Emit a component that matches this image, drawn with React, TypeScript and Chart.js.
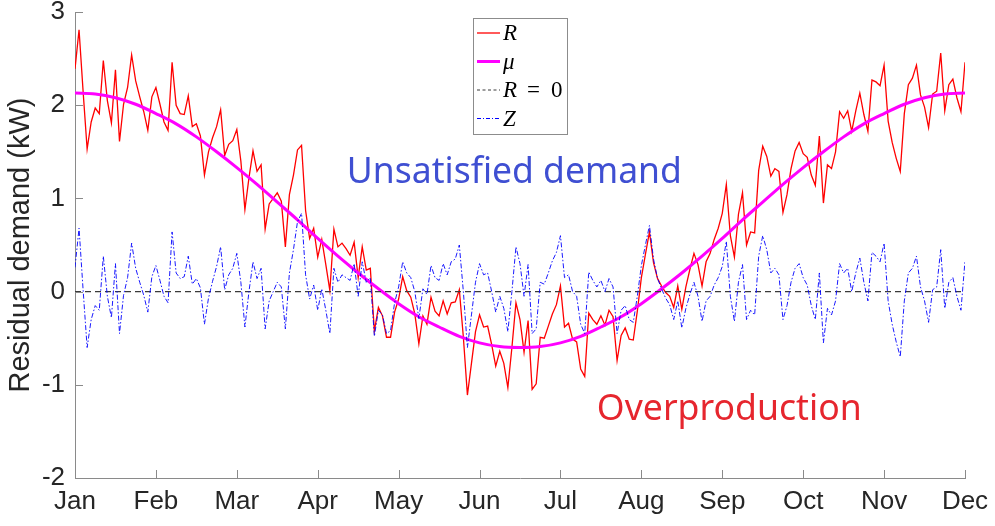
import React, { useEffect, useRef } from 'react';
import { Chart, registerables } from 'chart.js';

Chart.register(...registerables);

// ---- data ----
const monthLabels = ['Jan', 'Feb', 'Mar', 'Apr', 'May', 'Jun', 'Jul', 'Aug', 'Sep', 'Oct', 'Nov', 'Dec'];
const yTickValues = [-2, -1, 0, 1, 2, 3];

// R and Z are sampled every 0.05 month, starting at Jan
const sampleStep = 0.05;

const rValues = [
  2.39, 2.81, 2.15, 1.53, 1.82, 1.97, 1.91, 2.48, 2.05, 1.81,
  2.38, 1.61, 2.01, 2.19, 2.54, 2.26, 2.09, 1.93, 1.73, 2.09,
  2.19, 2.01, 1.82, 1.73, 2.46, 2.0, 1.91, 1.90, 2.10, 1.77,
  1.80, 1.67, 1.25, 1.50, 1.65, 1.77, 1.95, 1.46, 1.58, 1.62,
  1.74, 1.40, 0.88, 1.22, 1.51, 1.29, 1.36, 0.67, 0.94, 1.00,
  1.06, 0.97, 0.48, 1.04, 1.25, 1.52, 1.57, 0.87, 0.57, 0.68,
  0.37, 0.56, 0.29, 0.01, 0.67, 0.48, 0.52, 0.46, 0.39, 0.53,
  0.15, 0.48, 0.23, 0.25, -0.42, -0.17, -0.26, -0.49, -0.49, -0.22,
  -0.08, 0.16, 0.01, -0.06, -0.24, -0.56, -0.26, -0.35, -0.06, -0.21,
  -0.26, -0.10, -0.24, -0.12, -0.11, 0.02, -0.49, -1.11, -0.77, -0.43,
  -0.25, -0.38, -0.37, -0.57, -0.80, -0.64, -0.77, -1.03, -0.60, -0.12,
  -0.30, -0.65, -0.31, -1.05, -0.99, -0.49, -0.50, -0.37, -0.24, -0.14,
  0.06, -0.38, -0.34, -0.51, -0.54, -0.83, -0.91, -0.23, -0.30, -0.35,
  -0.26, -0.36, -0.20, -0.27, -0.74, -0.47, -0.39, -0.51, -0.52, -0.21,
  0.15, 0.40, 0.64, 0.31, 0.14, 0.06, -0.01, -0.05, -0.17, 0.06,
  -0.19, 0.05, 0.24, 0.41, 0.29, 0.06, 0.32, 0.41, 0.56, 0.68,
  0.84, 1.15, 0.60, 0.37, 0.83, 1.06, 0.50, 0.64, 0.63, 1.30,
  1.56, 1.45, 1.24, 1.32, 1.29, 0.85, 1.04, 1.32, 1.51, 1.60,
  1.48, 1.44, 1.25, 1.14, 1.67, 0.95, 1.36, 1.32, 1.50, 1.93,
  1.86, 1.94, 1.72, 1.94, 2.13, 1.90, 1.72, 2.27, 2.25, 2.21,
  2.43, 1.83, 1.60, 1.43, 1.29, 1.91, 2.22, 2.29, 2.43, 2.11,
  1.98, 1.76, 2.12, 2.15, 2.56, 1.94, 2.22, 2.28, 2.08, 1.93, 2.46,
];

const zValues = [
  0.26, 0.68, 0.02, -0.6, -0.3, -0.15, -0.2, 0.38, -0.05, -0.28,
  0.3, -0.45, -0.04, 0.15, 0.52, 0.25, 0.1, -0.04, -0.22, 0.16,
  0.28, 0.12, -0.05, -0.12, 0.64, 0.2, 0.14, 0.16, 0.38, 0.08,
  0.14, 0.04, -0.35, -0.07, 0.11, 0.27, 0.48, 0.02, 0.18, 0.25,
  0.41, 0.1, -0.38, 0.0, 0.32, 0.14, 0.25, -0.4, -0.1, 0.0,
  0.1, 0.05, -0.4, 0.2, 0.45, 0.75, 0.84, 0.18, -0.08, 0.07,
  -0.2, 0.03, -0.2, -0.45, 0.25, 0.1, 0.18, 0.15, 0.12, 0.3,
  -0.05, 0.32, 0.1, 0.15, -0.48, -0.2, -0.25, -0.45, -0.42, -0.12,
  0.05, 0.32, 0.2, 0.15, 0.0, -0.29, 0.03, -0.03, 0.28, 0.15,
  0.12, 0.3, 0.18, 0.32, 0.35, 0.5, 0.0, -0.6, -0.25, 0.1,
  0.3, 0.18, 0.2, 0.0, -0.22, -0.05, -0.18, -0.43, 0.0, 0.48,
  0.3, -0.05, 0.29, -0.45, -0.4, 0.1, 0.08, 0.2, 0.33, 0.42,
  0.6, 0.15, 0.18, 0.0, -0.05, -0.35, -0.45, 0.21, 0.12, 0.05,
  0.12, 0.0, 0.14, 0.05, -0.45, -0.2, -0.15, -0.3, -0.33, -0.05,
  0.28, 0.5, 0.71, 0.35, 0.14, 0.03, -0.07, -0.14, -0.3, -0.1,
  -0.39, -0.18, -0.03, 0.1, -0.05, -0.32, -0.1, -0.05, 0.07, 0.15,
  0.27, 0.54, -0.05, -0.32, 0.1, 0.29, -0.3, -0.2, -0.25, 0.38,
  0.6, 0.45, 0.2, 0.25, 0.18, -0.3, -0.15, 0.1, 0.25, 0.3,
  0.15, 0.07, -0.15, -0.3, 0.2, -0.55, -0.18, -0.25, -0.1, 0.3,
  0.2, 0.25, 0.0, 0.2, 0.36, 0.1, -0.1, 0.42, 0.38, 0.32,
  0.52, -0.1, -0.35, -0.54, -0.7, -0.1, 0.2, 0.25, 0.38, 0.05,
  -0.1, -0.33, 0.02, 0.05, 0.45, -0.18, 0.1, 0.15, -0.05, -0.2, 0.33,
];

// mu is sampled every 0.25 month
const muStep = 0.25;
const muValues = [
  2.13, 2.12, 2.08, 2.01, 1.91, 1.80, 1.66, 1.50, 1.33, 1.15,
  0.96, 0.77, 0.57, 0.38, 0.20, 0.03, -0.13, -0.27, -0.38, -0.48,
  -0.55, -0.59, -0.60, -0.59, -0.55, -0.48, -0.38, -0.27, -0.13, 0.03,
  0.20, 0.38, 0.57, 0.77, 0.96, 1.15, 1.33, 1.50, 1.66, 1.80,
  1.91, 2.01, 2.08, 2.12, 2.13,
];

const zeroLineX = [0, 11];
const zeroLineY = [0, 0];

const legendLabels = ['R', 'μ', 'R = 0', 'Z'];
const annotationTexts = ['Unsatisfied demand', 'Overproduction'];

// ---- styles ----
const AXIS_COLOR = '#262626';
const AXIS_LINE_COLOR = '#8a8a8a';
const TICK_FONT = '"Liberation Sans", Arial, sans-serif';
const R_COLOR = '#ff0000';
const MU_COLOR = '#ff00ff';
const ZERO_COLOR = '#3a3a3a';
const Z_COLOR = '#0000ff';

const overlayPlugin = {
  id: 'overlay',
  afterDraw(chart: any) {
    const { ctx, chartArea, scales } = chart;
    const xs = scales.x;
    const ys = scales.y;
    ctx.save();

    // inward tick marks (MATLAB style)
    ctx.strokeStyle = AXIS_LINE_COLOR;
    ctx.lineWidth = 1;
    ctx.setLineDash([]);
    ctx.beginPath();
    for (let i = 0; i < monthLabels.length; i++) {
      const px = Math.round(xs.getPixelForValue(i)) + 0.5;
      ctx.moveTo(px, chartArea.bottom);
      ctx.lineTo(px, chartArea.bottom - 8);
    }
    for (const v of yTickValues) {
      const py = Math.round(ys.getPixelForValue(v)) + 0.5;
      ctx.moveTo(chartArea.left, py);
      ctx.lineTo(chartArea.left + 8, py);
    }
    ctx.stroke();

    // annotations
    const fit = (text: string, family: string, target: number) => {
      ctx.font = `100px ${family}`;
      const w = ctx.measureText(text).width;
      return (100 * target) / w;
    };
    const annFamily = '"Noto Sans", "Open Sans", sans-serif';
    ctx.textAlign = 'left';
    ctx.textBaseline = 'alphabetic';
    {
      const size = fit(annotationTexts[0], annFamily, 335);
      ctx.font = `${size}px ${annFamily}`;
      ctx.fillStyle = '#3f4fd2';
      ctx.fillText(annotationTexts[0], xs.getPixelForValue(3.36), ys.getPixelForValue(1.16));
    }
    {
      const size = fit(annotationTexts[1], annFamily, 265);
      ctx.font = `${size}px ${annFamily}`;
      ctx.fillStyle = '#e6262e';
      ctx.fillText(annotationTexts[1], xs.getPixelForValue(6.45), ys.getPixelForValue(-1.38));
    }

    // legend
    const lx = chartArea.left + 398;
    const ly = chartArea.top + 6;
    const lw = 94;
    const lh = 116;
    ctx.fillStyle = '#ffffff';
    ctx.fillRect(lx, ly, lw, lh);
    ctx.strokeStyle = '#8c8c8c';
    ctx.lineWidth = 1;
    ctx.strokeRect(Math.round(lx) + 0.5, Math.round(ly) + 0.5, lw, lh);

    const rows = [
      { color: R_COLOR, width: 1.3, dash: [] as number[] },
      { color: MU_COLOR, width: 3, dash: [] as number[] },
      { color: ZERO_COLOR, width: 1, dash: [3, 2.5] },
      { color: Z_COLOR, width: 1, dash: [4, 2, 1, 2] },
    ];
    const serif = '"Liberation Serif", "DejaVu Serif", serif';
    rows.forEach((row, i) => {
      const cy = ly + 15 + i * 28.5;
      ctx.strokeStyle = row.color;
      ctx.lineWidth = row.width;
      ctx.setLineDash(row.dash);
      ctx.beginPath();
      ctx.moveTo(lx + 4, cy);
      ctx.lineTo(lx + 27, cy);
      ctx.stroke();
      ctx.setLineDash([]);
      ctx.fillStyle = '#000000';
      const label = legendLabels[i];
      const tx = lx + 30;
      const by = cy + 7;
      if (label.includes('=')) {
        const parts = label.split(' = ');
        ctx.font = `italic 23px ${serif}`;
        ctx.fillText(parts[0], tx, by);
        ctx.font = `23px ${serif}`;
        ctx.fillText('=', tx + 24, by);
        ctx.fillText(parts[1], tx + 48, by);
      } else {
        ctx.font = `italic 23px ${serif}`;
        ctx.fillText(label, tx, by);
      }
    });

    ctx.restore();
  },
};

export default function App() {
  const canvasRef = useRef<HTMLCanvasElement | null>(null);

  useEffect(() => {
    document.body.style.margin = '0';
    const canvas = canvasRef.current;
    if (!canvas) return;

    const rData = rValues.map((v, i) => ({ x: i * sampleStep, y: v }));
    const zData = zValues.map((v, i) => ({ x: i * sampleStep, y: v }));
    const muData = muValues.map((v, i) => ({ x: i * muStep, y: v }));
    const zeroData = zeroLineX.map((x, i) => ({ x, y: zeroLineY[i] }));

    const chart = new Chart(canvas, {
      type: 'line',
      data: {
        datasets: [
          {
            label: legendLabels[0],
            data: rData,
            borderColor: R_COLOR,
            borderWidth: 1.3,
            pointRadius: 0,
            tension: 0,
            order: 4,
          },
          {
            label: legendLabels[1],
            data: muData,
            borderColor: MU_COLOR,
            borderWidth: 3,
            pointRadius: 0,
            cubicInterpolationMode: 'monotone',
            order: 3,
          },
          {
            label: legendLabels[2],
            data: zeroData,
            borderColor: ZERO_COLOR,
            borderWidth: 1.1,
            borderDash: [6, 4],
            pointRadius: 0,
            order: 2,
          },
          {
            label: legendLabels[3],
            data: zData,
            borderColor: Z_COLOR,
            borderWidth: 0.9,
            borderDash: [5, 2, 1.5, 2],
            pointRadius: 0,
            tension: 0,
            order: 1,
          },
        ],
      },
      options: {
        responsive: false,
        animation: false,
        events: [],
        devicePixelRatio: 1,
        layout: { padding: { left: 0, top: 12, right: 30, bottom: 0 } },
        plugins: {
          legend: { display: false },
          tooltip: { enabled: false },
        },
        scales: {
          x: {
            type: 'linear',
            min: 0,
            max: 11,
            grid: { display: false, drawTicks: false },
            border: { display: true, color: AXIS_LINE_COLOR, width: 1 },
            ticks: {
              stepSize: 1,
              autoSkip: false,
              maxRotation: 0,
              padding: 8,
              color: AXIS_COLOR,
              font: { family: TICK_FONT, size: 26 },
              callback: (v: any) => monthLabels[Math.round(Number(v))] ?? '',
            },
            afterFit: (s: any) => {
              s.height = 48;
              s.paddingLeft = 0;
              s.paddingRight = 0;
            },
          },
          y: {
            type: 'linear',
            min: -2,
            max: 3,
            grid: { display: false, drawTicks: false },
            border: { display: true, color: AXIS_LINE_COLOR, width: 1 },
            ticks: {
              stepSize: 1,
              padding: 10,
              color: AXIS_COLOR,
              font: { family: TICK_FONT, size: 26 },
            },
            title: {
              display: true,
              text: 'Residual demand (kW)',
              color: AXIS_COLOR,
              font: { family: TICK_FONT, size: 29 },
              padding: { top: 4, bottom: 0 },
            },
            afterFit: (s: any) => {
              s.width = 75;
              s.paddingTop = 0;
              s.paddingBottom = 0;
            },
          },
        },
      },
      plugins: [overlayPlugin],
    } as any);

    return () => {
      chart.destroy();
    };
  }, []);

  return (
    <div style={{ width: 995, height: 526, background: '#ffffff' }}>
      <canvas ref={canvasRef} width={995} height={526} style={{ display: 'block' }} />
    </div>
  );
}
